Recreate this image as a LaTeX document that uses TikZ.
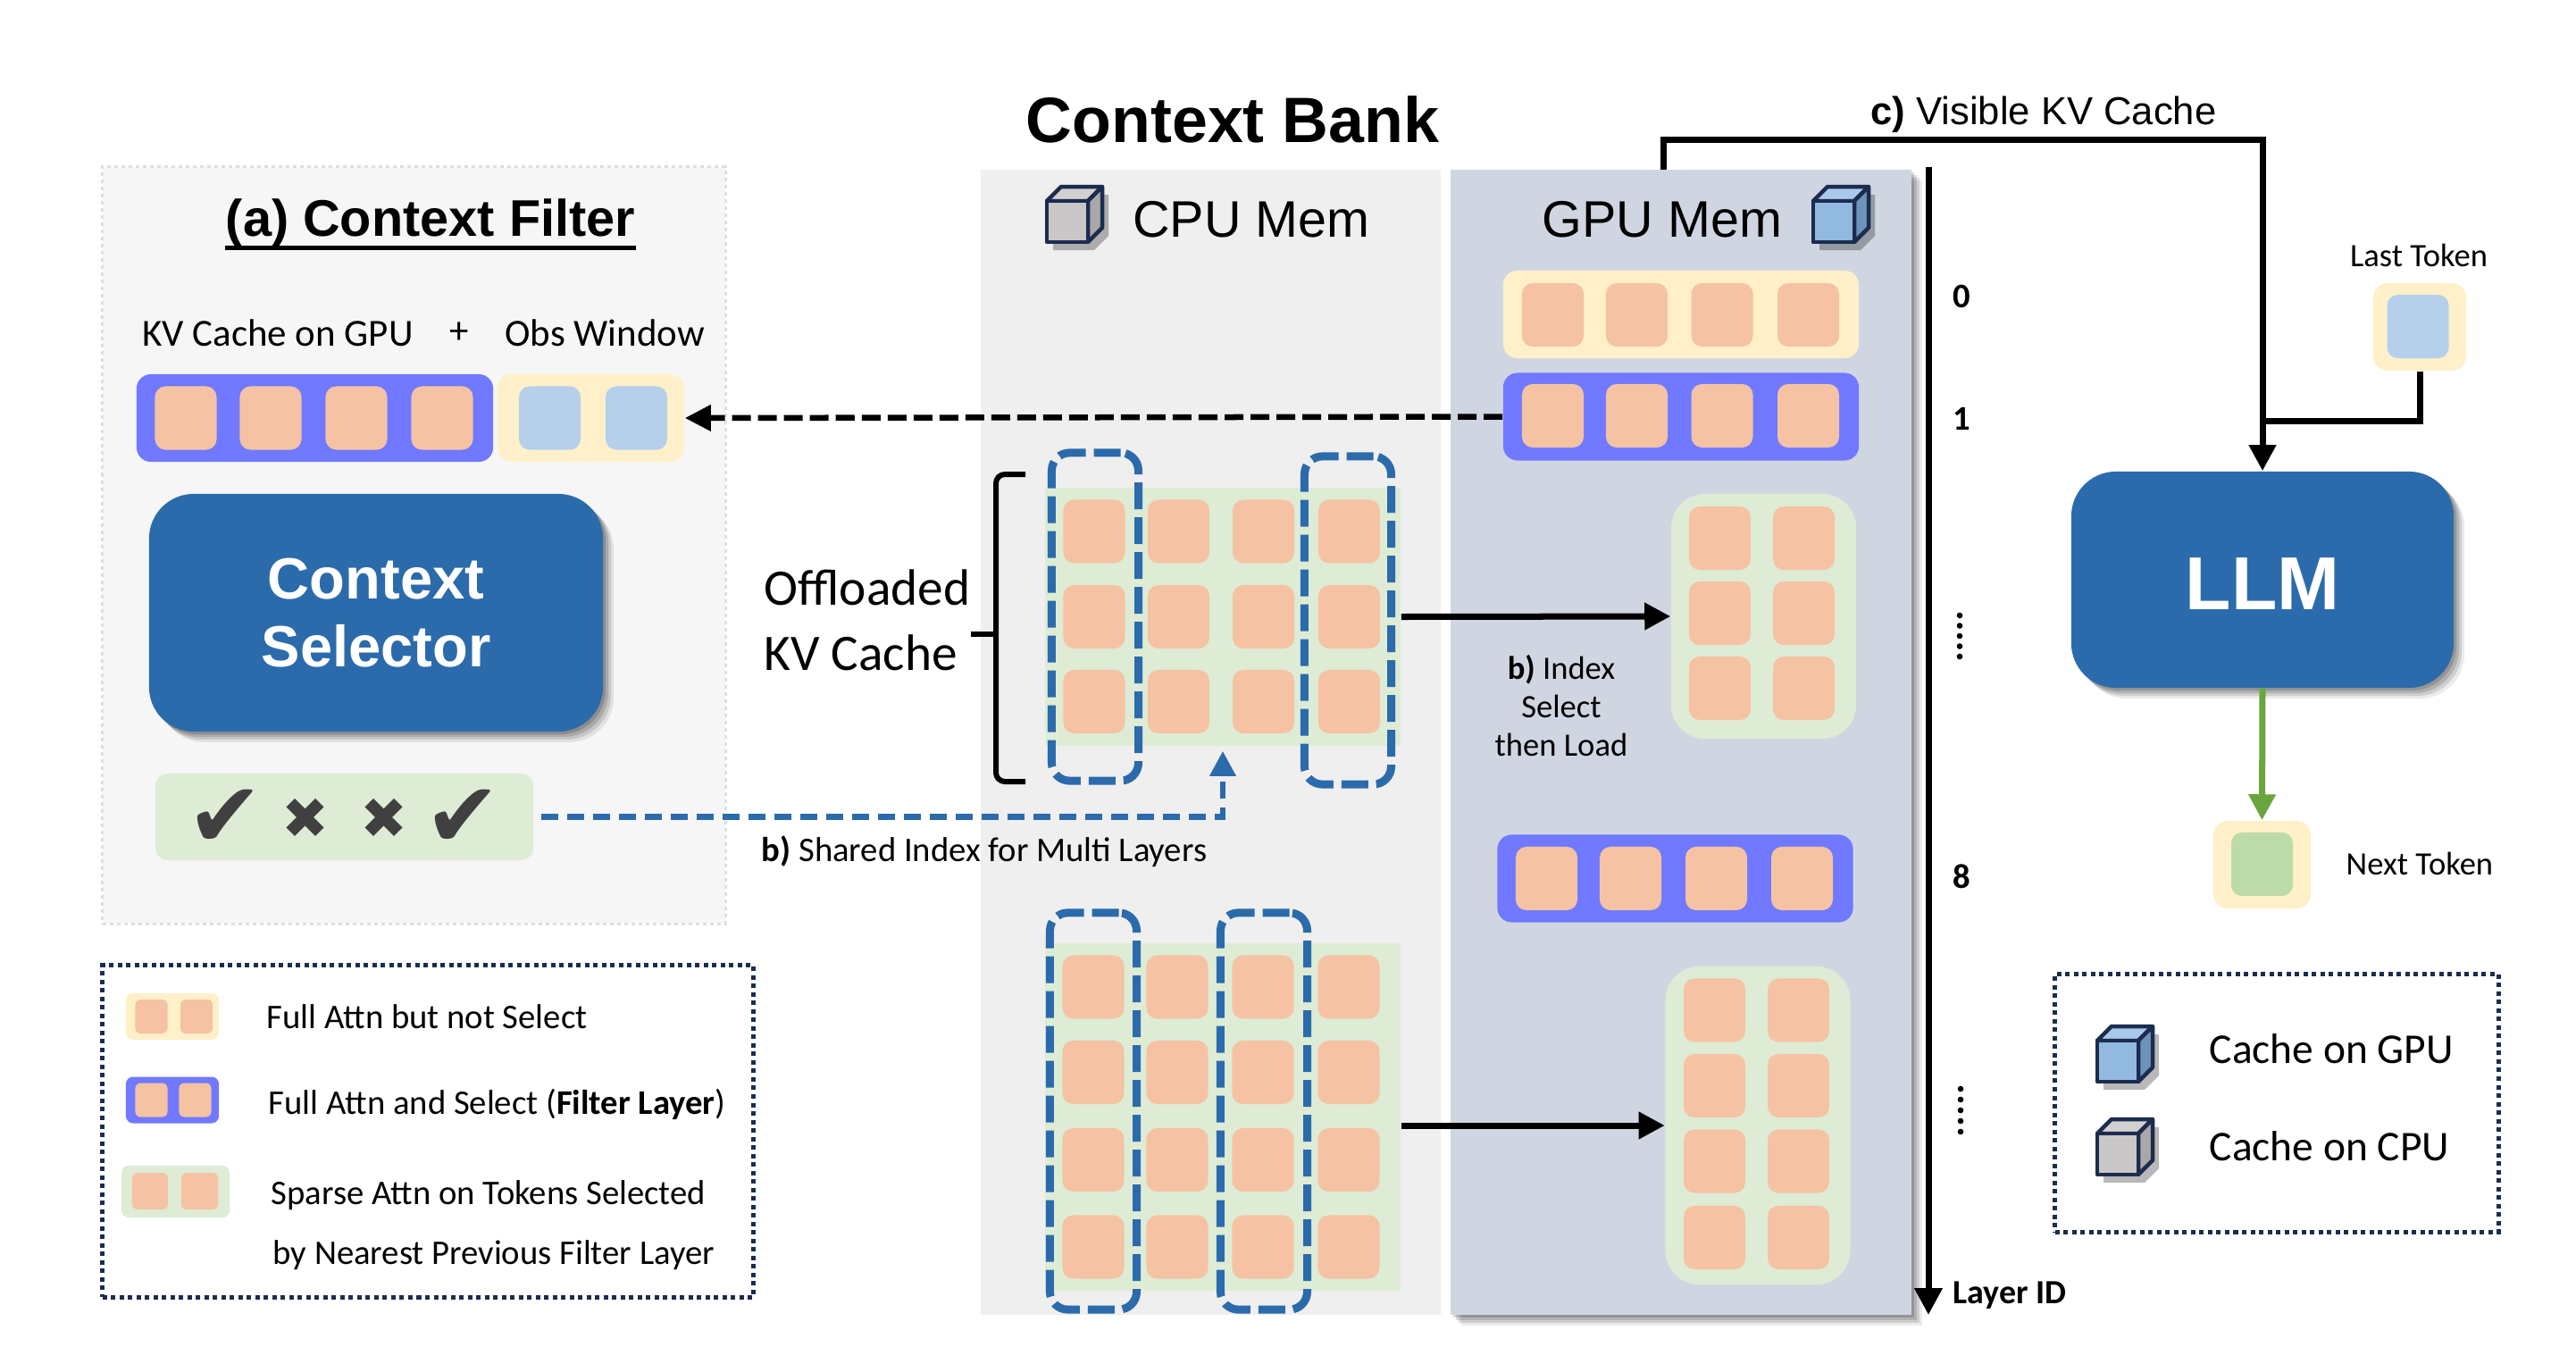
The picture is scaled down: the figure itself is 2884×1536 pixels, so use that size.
\documentclass[tikz,border=0pt]{standalone}
\usepackage{fontspec}
\usepackage{xcolor}
\usetikzlibrary{arrows.meta,shadows}
\setmainfont{Carlito}
\newfontfamily\arialfont{Liberation Sans}
\newfontfamily\marksfont{DejaVu Sans}

\definecolor{cellorange}{HTML}{F5C3A3}
\definecolor{rowpurple}{HTML}{7079FF}
\definecolor{rowyellow}{HTML}{FFF0C9}
\definecolor{rowgreen}{HTML}{DEECD6}
\definecolor{cellblue}{HTML}{B6D0EC}
\definecolor{cellgreen}{HTML}{BDDBA9}
\definecolor{boxblue}{HTML}{2B6BAB}
\definecolor{arrowgreen}{HTML}{6AA53D}
\definecolor{cpupanel}{HTML}{EFEFEF}
\definecolor{gpupanel}{HTML}{CFD6E1}
\definecolor{filterpanel}{HTML}{F6F6F6}
\definecolor{navy}{HTML}{1C2C4F}
\definecolor{cputop}{HTML}{D2D0D0}
\definecolor{cpuface}{HTML}{C9C7C7}
\definecolor{cpuside}{HTML}{A9A7A7}
\definecolor{gputop}{HTML}{A9C9EA}
\definecolor{gpuface}{HTML}{92B9E0}
\definecolor{gpuside}{HTML}{6D93BB}

\tikzset{
  softshadow/.style={
    drop shadow={shadow xshift=.03cm, shadow yshift=-.03cm, opacity=.16, fill=black},
    drop shadow={shadow xshift=.06cm, shadow yshift=-.06cm, opacity=.14, fill=black},
    drop shadow={shadow xshift=.09cm, shadow yshift=-.09cm, opacity=.12, fill=black},
    drop shadow={shadow xshift=.12cm, shadow yshift=-.12cm, opacity=.08, fill=black}},
  panel/.style={rectangle, inner sep=0pt, minimum width=5.15cm, minimum height=12.82cm},
  cell/.style={rectangle, rounded corners=.12cm, fill=cellorange, inner sep=0pt, minimum width=.69cm, minimum height=.71cm},
  legcell/.style={cell, rounded corners=.06cm, minimum width=.36cm, minimum height=.38cm},
  rowbox/.style={rectangle, rounded corners=.16cm, inner sep=0pt, minimum width=3.98cm, minimum height=.98cm},
  legbox/.style={rectangle, rounded corners=.08cm, inner sep=0pt, minimum width=1.04cm, minimum height=.52cm},
  tokenbox/.style={rectangle, rounded corners=.16cm, fill=rowyellow, inner sep=0pt},
  sparsegrid/.style={rectangle, fill=rowgreen, inner sep=0pt, minimum width=3.98cm},
  sparsecol/.style={rectangle, rounded corners=.38cm, fill=rowgreen, inner sep=0pt, minimum width=2.07cm},
  pickbox/.style={rectangle, draw=boxblue, line width=.09cm, rounded corners=.2cm, dash pattern=on .3cm off .09cm, inner sep=0pt, minimum width=.97cm},
  mainbox/.style={rectangle, rounded corners=.5cm, fill=boxblue, text=white, inner sep=0pt, softshadow, align=center},
  legframe/.style={rectangle, draw=navy, line width=.05cm, dash pattern=on .05cm off .045cm, inner sep=0pt},
  lab/.style={inner sep=0pt, font=\fontsize{11}{13}\selectfont},
  labsmall/.style={inner sep=0pt, font=\fontsize{10.4}{12.2}\selectfont},
  labkv/.style={inner sep=0pt, font=\fontsize{12.2}{14}\selectfont},
  labbig/.style={inner sep=0pt, font=\fontsize{13.5}{16}\selectfont},
  labhuge/.style={inner sep=0pt, font=\fontsize{16.3}{20}\selectfont},
  labmem/.style={inner sep=0pt, font=\arialfont\fontsize{16.35}{20}\selectfont},
  laynum/.style={inner sep=0pt, font=\bfseries\fontsize{11}{13}\selectfont},
  mainline/.style={line width=.07cm},
  solidarrow/.style={line width=.07cm, -{Triangle[length=.29cm,width=.29cm]}},
  dasharrow/.style={line width=.065cm, dash pattern=on .21cm off .08cm, -{Triangle[length=.29cm,width=.28cm]}},
  bluearrow/.style={draw=boxblue, line width=.065cm, dash pattern=on .19cm off .1cm, -{Triangle[length=.28cm,width=.28cm]}}
}

% x y top front side
\newcommand{\memcube}[5]{
  \begin{scope}[shift={(#1,#2)}]
  \fill[black, opacity=.28] (7,25) -- (23,9) -- (69,9) -- (69,55) -- (53,71) -- (7,71) -- cycle;
  \draw[navy, line width=.045cm, line join=round, fill=#3] (0,16) -- (16,0) -- (62,0) -- (46,16) -- cycle;
  \draw[navy, line width=.045cm, line join=round, fill=#5] (46,16) -- (62,0) -- (62,46) -- (46,62) -- cycle;
  \draw[navy, line width=.045cm, line join=round, fill=#4] (0,16) rectangle (46,62);
  \end{scope}
}

\begin{document}
\begin{tikzpicture}[x=.01cm, y=-.01cm]
\useasboundingbox (0,0) rectangle (2884,1536);

% panels
\node[rectangle, fill=filterpanel, draw=black!13, line width=.03cm, dash pattern=on .04cm off .04cm, inner sep=0pt, minimum width=6.97cm, minimum height=8.47cm] (filterPanel) at (463.5,610.5) {};
\node[panel, fill=cpupanel] (cpuPanel) at (1355.5,831) {};
\node[panel, fill=gpupanel, softshadow] (gpuPanel) at (1882,831) {};

% titles
\node[inner sep=0pt, font=\arialfont\bfseries\fontsize{20.4}{24}\selectfont] (bankTitle) at (1380,134) {Context Bank};
\node[inner sep=0pt, font=\arialfont\bfseries\fontsize{16.4}{20}\selectfont] (filterTitle) at (482,250) {(a) Context Filter};
\draw[line width=.05cm] (filterTitle.south west) -- (filterTitle.south east);
\node[labmem] (cpuLabel) at (1401,246) {CPU Mem};
\node[labmem] (gpuLabel) at (1861,246) {GPU Mem};
\memcube{1172}{209}{cputop}{cpuface}{cpuside}
\memcube{2030}{209}{gputop}{gpuface}{gpuside}

% context filter
\node[labkv] (kvLabel) at (311,373) {KV Cache on GPU};
\node[labkv] (plusLabel) at (514,373) {+};
\node[labkv] (obsLabel) at (677,373) {Obs Window};
\node[rowbox, fill=rowpurple, minimum width=3.99cm] (kvRow) at (352.5,468) {};
\node[rowbox, fill=rowyellow, minimum width=2.09cm] (obsRow) at (661.5,468) {};
\foreach \x/\n in {208/1,303/2,399/3,495/4}
  \node[cell] (kv\n) at (\x,468) {};
\node[cell, fill=cellblue] (obs1) at (615.5,468) {};
\node[cell, fill=cellblue] (obs2) at (712.5,468) {};
\node[mainbox, minimum width=5.08cm, minimum height=2.66cm, font=\arialfont\bfseries\fontsize{18.5}{21.6}\selectfont] (selector) at (421,686) {Context\\Selector};
\node[rectangle, rounded corners=.14cm, fill=rowgreen, inner sep=0pt, minimum width=4.23cm, minimum height=.97cm] (selectMask) at (385.5,914.5) {};
\node[inner sep=0pt, text=black!75, font=\marksfont\fontsize{29}{29}\selectfont] (mark1) at (252,916) {✔};
\node[inner sep=0pt, text=black!75, font=\marksfont\fontsize{18}{18}\selectfont] (mark2) at (342,916) {✖};
\node[inner sep=0pt, text=black!75, font=\marksfont\fontsize{18}{18}\selectfont] (mark3) at (430,916) {✖};
\node[inner sep=0pt, text=black!75, font=\marksfont\fontsize{29}{29}\selectfont] (mark4) at (518,916) {✔};

% left legend
\node[legframe, minimum width=7.28cm, minimum height=3.71cm] (attnLegend) at (479,1266.5) {};
\node[legbox, fill=rowyellow] (legFull) at (193,1138) {};
\node[legcell] (legFull1) at (169.5,1138) {};
\node[legcell] (legFull2) at (220,1138) {};
\node[legbox, fill=rowpurple] (legSelect) at (193,1231.5) {};
\node[legcell] (legSelect1) at (169.5,1231.5) {};
\node[legcell] (legSelect2) at (218.5,1231.5) {};
\node[legbox, fill=rowgreen, minimum width=1.21cm, minimum height=.58cm] (legSparse) at (196.5,1334) {};
\node[legcell, minimum width=.4cm, minimum height=.41cm] (legSparse1) at (168,1333.5) {};
\node[legcell, minimum width=.41cm, minimum height=.41cm] (legSparse2) at (223.5,1333.5) {};
\node[lab, anchor=west] (legText1) at (298,1138) {Full Attn but not Select};
\node[lab, anchor=west] (legText2) at (300,1236) {Full Attn and Select (\textbf{Filter Layer})};
\node[lab, anchor=west] (legText3) at (303,1338) {Sparse Attn on Tokens Selected};
\node[lab, anchor=west] (legText4) at (305,1405) {by Nearest Previous Filter Layer};

% offloaded cache on cpu
\node[labhuge, anchor=west] (offLabel1) at (855,658) {Offloaded};
\node[labhuge, anchor=west] (offLabel2) at (855,731) {KV Cache};
\coordinate (braceTop) at (1148,531);
\coordinate (braceLow) at (1148,875);
\coordinate (braceSpine) at (1115,710);
\coordinate (braceTip) at (1087,710);
\draw[line width=.06cm, rounded corners=.1cm] (braceTop) -| (braceSpine) |- (braceLow);
\draw[line width=.06cm] (braceSpine) -- (braceTip);

\node[sparsegrid, minimum height=2.89cm] (sparseTop) at (1369,690.5) {};
\foreach \y/\r in {595/1,690.5/2,785.5/3}
  \foreach \x/\c in {1225/1,1319.5/2,1414.5/3,1510.5/4}
    \node[cell] (sparseTop\r\c) at (\x,\y) {};
\node[pickbox, minimum height=3.67cm] (pickA) at (1226,690.5) {};
\node[pickbox, minimum height=3.67cm] (pickB) at (1509,694.5) {};

\node[sparsegrid, minimum height=3.89cm] (sparseLow) at (1369,1250.5) {};
\foreach \y/\r in {1105/1,1200.5/2,1298.5/3,1396/4}
  \foreach \x/\c in {1224/1,1318/2,1414/3,1510/4}
    \node[cell] (sparseLow\r\c) at (\x,\y) {};
\node[pickbox, minimum height=4.44cm] (pickC) at (1224,1244) {};
\node[pickbox, minimum height=4.44cm] (pickD) at (1415,1244) {};

% gpu rows
\node[rowbox, fill=rowyellow] (gpuRow0) at (1882,352) {};
\node[rowbox, fill=rowpurple] (gpuRow1) at (1882,466.5) {};
\node[sparsecol, minimum height=2.74cm] (gpuSparseTop) at (1974.5,690) {};
\node[rowbox, fill=rowpurple] (gpuRow8) at (1875.5,983.5) {};
\node[sparsecol, minimum height=3.56cm] (gpuSparseLow) at (1968,1260) {};
\foreach \x/\c in {1738.5/1,1832.5/2,1928/3,2024.5/4} {
  \node[cell] (gpuZero\c) at (\x,352.5) {};
  \node[cell] (gpuOne\c) at (\x,465.5) {};
}
\foreach \x/\c in {1731.5/1,1825.5/2,1921.5/3,2017.5/4}
  \node[cell] (gpuEight\c) at (\x,983.5) {};
\foreach \y/\r in {602.5/1,686.5/2,770.5/3} {
  \node[cell] (gpuTopA\r) at (1925.5,\y) {};
  \node[cell] (gpuTopB\r) at (2019.5,\y) {};
}
\foreach \y/\r in {1131/1,1215.5/2,1300/3,1385.5/4} {
  \node[cell] (gpuLowA\r) at (1919.5,\y) {};
  \node[cell] (gpuLowB\r) at (2013.5,\y) {};
}

% layer axis
\coordinate (axisTop) at (2159,187);
\coordinate (axisEnd) at (2159,1472);
\draw[line width=.07cm, -{Triangle[length=.3cm,width=.3cm]}] (axisTop) -- (axisEnd);
\node[laynum] (layer0) at (2196,332) {0};
\node[laynum] (layer1) at (2196,469) {1};
\node[laynum] (layer8) at (2196,981) {8};
\node[inner sep=0pt, font=\bfseries\fontsize{10.8}{13}\selectfont, anchor=west] (layerID) at (2186,1450) {Layer ID};
\foreach \y in {689,700.5,712,723.5,735}
  \fill (2194,\y) circle (.033cm);
\foreach \y in {1219,1231,1243,1255,1267}
  \fill (2195,\y) circle (.033cm);

% llm side
\node[mainbox, minimum width=4.28cm, minimum height=2.42cm, text height=.66cm, text depth=0pt, font=\arialfont\bfseries\fontsize{23.9}{28}\selectfont] (llm) at (2533,649) {LLM};
\node[labsmall] (lastLabel) at (2708,286) {Last Token};
\node[tokenbox, minimum width=1.04cm, minimum height=.98cm] (lastToken) at (2709,366) {};
\node[cell, fill=cellblue] (lastCell) at (2707,365.5) {};
\node[tokenbox, minimum width=1.09cm, minimum height=.98cm] (nextToken) at (2532.5,968) {};
\node[cell, fill=cellgreen] (nextCell) at (2532.5,967.5) {};
\node[labsmall, anchor=west] (nextLabel) at (2626,967) {Next Token};

% right legend
\node[legframe, minimum width=4.96cm, minimum height=2.88cm] (cubeLegend) at (2549,1235) {};
\memcube{2348}{1149}{gputop}{gpuface}{gpuside}
\memcube{2348}{1253}{cputop}{cpuface}{cpuside}
\node[labbig, anchor=west] (cubeText1) at (2473,1174) {Cache on GPU};
\node[labbig, anchor=west] (cubeText2) at (2473,1283) {Cache on CPU};

% connectors
\draw[dasharrow] (gpuRow1.west) -- (obsRow.east);
\draw[bluearrow, shorten <=.08cm, shorten >=.05cm] (selectMask.east) -| (sparseTop.south);
\node[inner sep=0pt, font=\fontsize{11}{14}\selectfont, anchor=west] (sharedLabel) at (852,953) {\textbf{b)} Shared Index for Multi Layers};
\draw[solidarrow] (sparseTop.east) -- (gpuSparseTop.west);
\draw[solidarrow] (sparseLow.east |- gpuSparseLow.west) -- (gpuSparseLow.west);
\node[inner sep=0pt, align=center, font=\fontsize{10.4}{12.3}\selectfont] (indexLabel) at (1748,790) {\textbf{b)} Index\\Select\\then Load};
\coordinate (visibleStart) at (1862,190);
\coordinate (visibleTurn) at (2533,156);
\coordinate (llmJoin) at (2533,471);
\draw[solidarrow] (visibleStart) |- (visibleTurn) -- (llm.north);
\draw[mainline] (lastToken.south) |- (llmJoin);
\node[inner sep=0pt, font=\arialfont\fontsize{12.4}{15}\selectfont] (visibleLabel) at (2288,128) {\textbf{c)} Visible KV Cache};
\draw[solidarrow, draw=arrowgreen, fill=arrowgreen] (llm.south) -- (nextToken.north);
\end{tikzpicture}
\end{document}
